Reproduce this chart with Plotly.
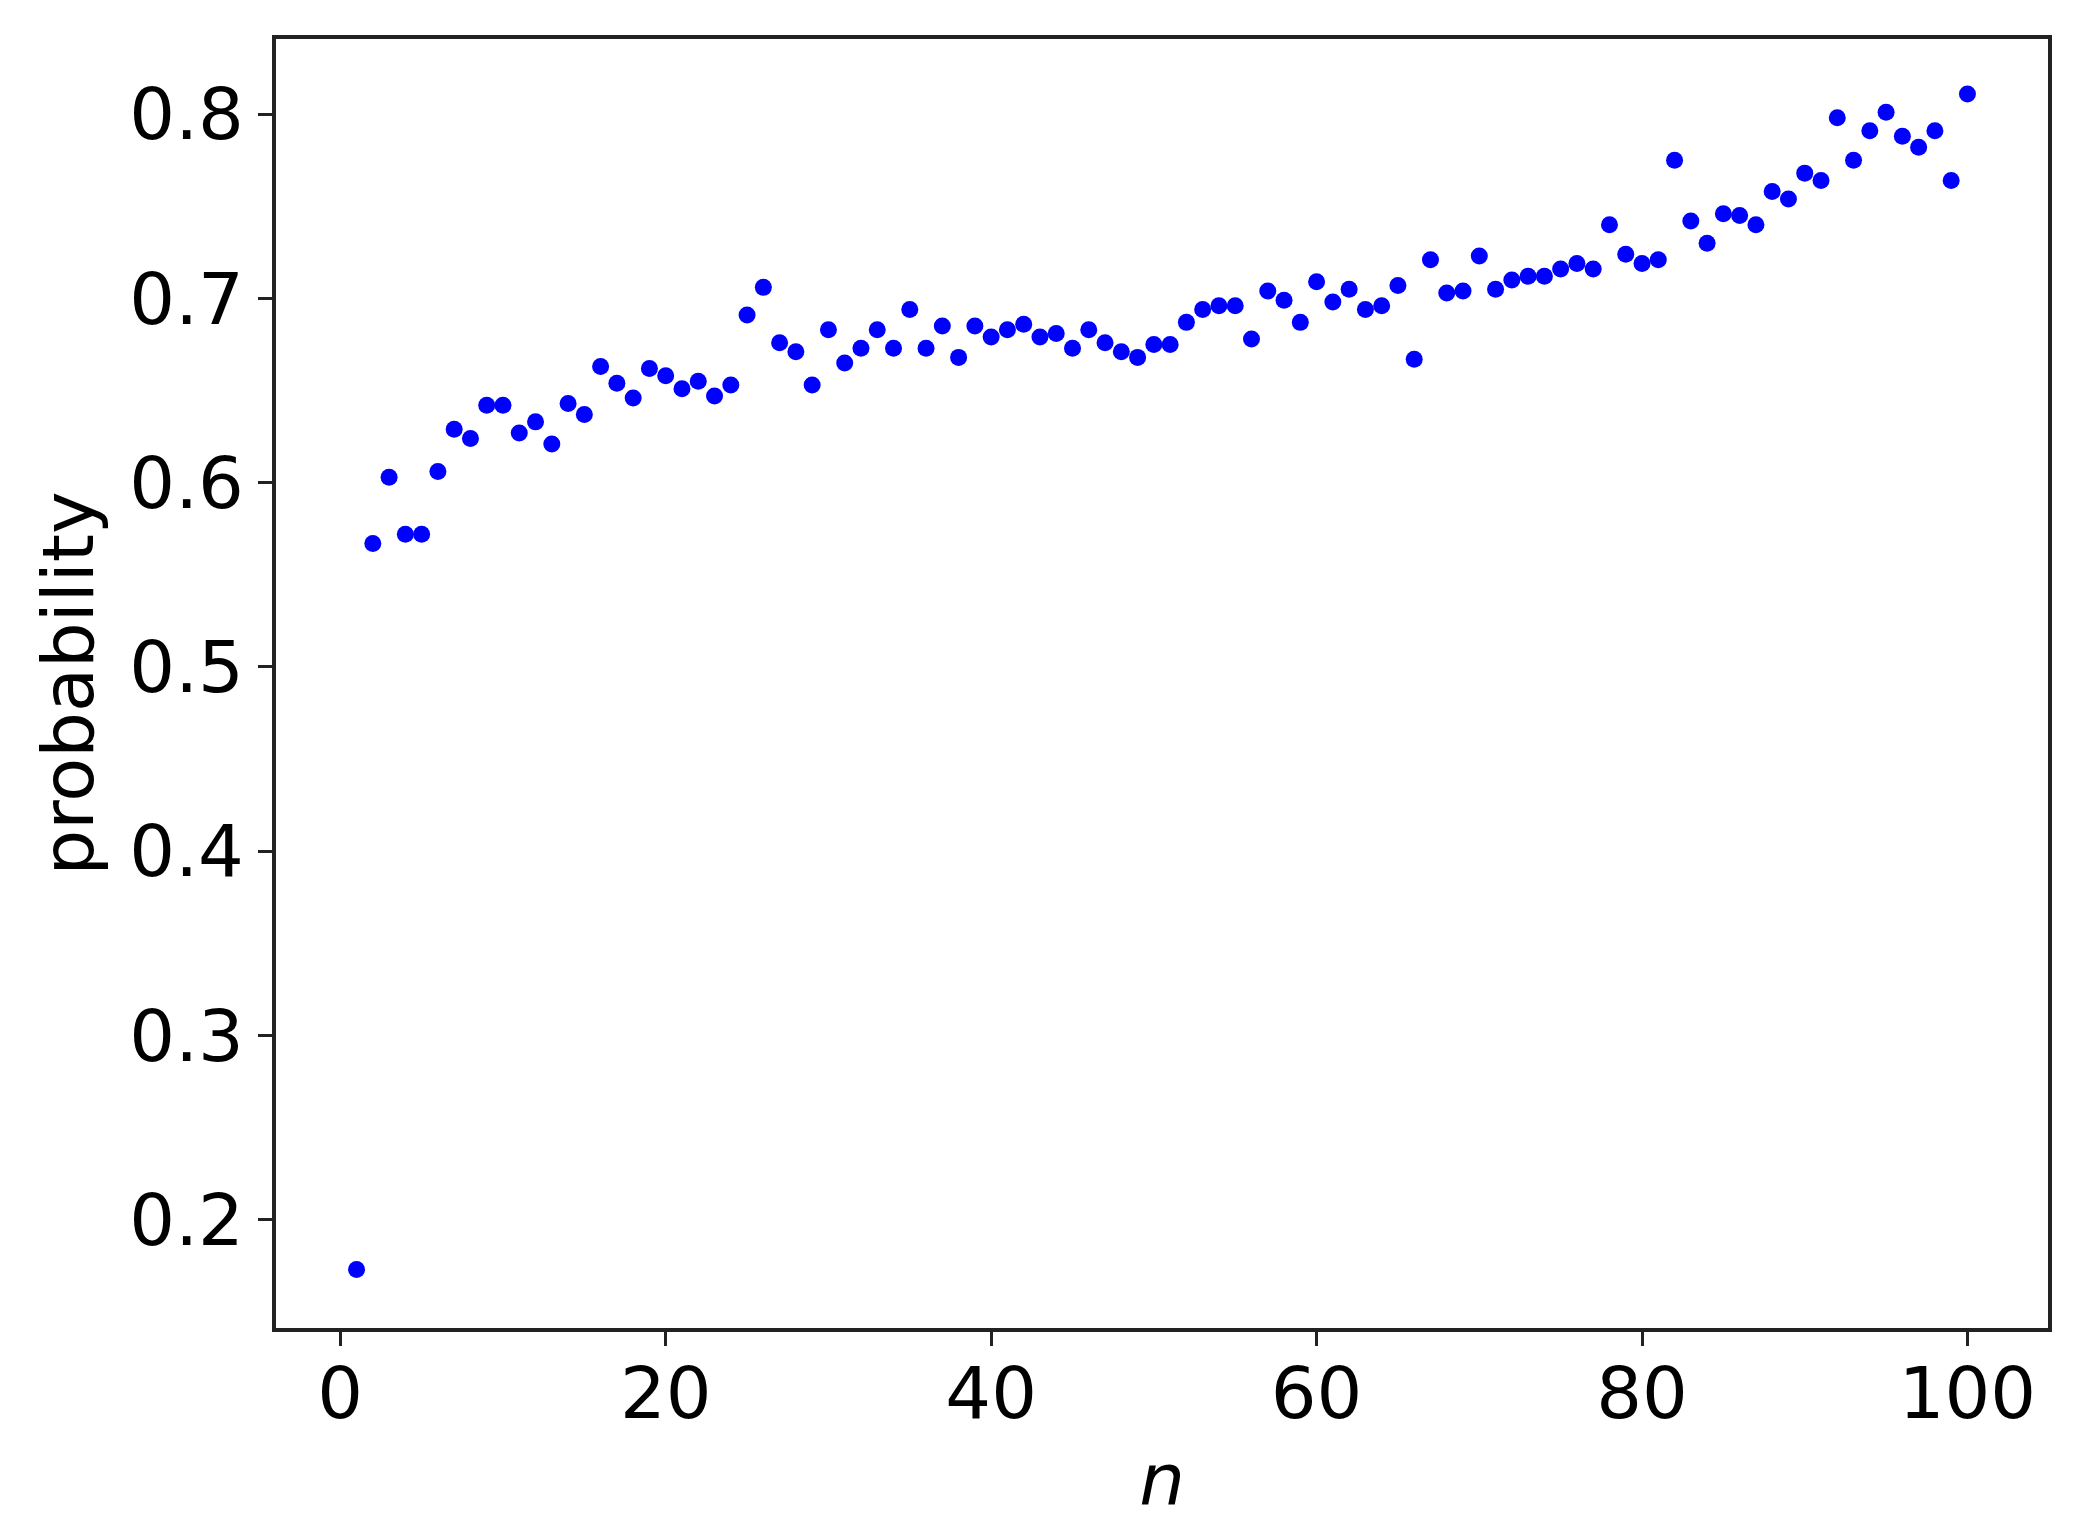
import plotly.graph_objects as go

# n = 1..100 and the estimated probability at each n
n_values = list(range(1, 101))
probability = [
    0.173, 0.567, 0.603, 0.572, 0.572, 0.606, 0.629, 0.624, 0.642, 0.642,
    0.627, 0.633, 0.621, 0.643, 0.637, 0.663, 0.654, 0.646, 0.662, 0.658,
    0.651, 0.655, 0.647, 0.653, 0.691, 0.706, 0.676, 0.671, 0.653, 0.683,
    0.665, 0.673, 0.683, 0.673, 0.694, 0.673, 0.685, 0.668, 0.685, 0.679,
    0.683, 0.686, 0.679, 0.681, 0.673, 0.683, 0.676, 0.671, 0.668, 0.675,
    0.675, 0.687, 0.694, 0.696, 0.696, 0.678, 0.704, 0.699, 0.687, 0.709,
    0.698, 0.705, 0.694, 0.696, 0.707, 0.667, 0.721, 0.703, 0.704, 0.723,
    0.705, 0.710, 0.712, 0.712, 0.716, 0.719, 0.716, 0.740, 0.724, 0.719,
    0.721, 0.775, 0.742, 0.730, 0.746, 0.745, 0.740, 0.758, 0.754, 0.768,
    0.764, 0.798, 0.775, 0.791, 0.801, 0.788, 0.782, 0.791, 0.764, 0.811,
]

x_ticks = [0, 20, 40, 60, 80, 100]
y_ticks = [0.2, 0.3, 0.4, 0.5, 0.6, 0.7, 0.8]

fig = go.Figure(go.Scatter(
    x=n_values, y=probability, mode="markers",
    marker=dict(color="#0000ff", size=17, line=dict(width=0)),
))

# same look for both axes: black frame, outward ticks
axis_style = dict(
    showline=True, linewidth=3.5, linecolor="#222222", mirror=True,
    ticks="outside", ticklen=14, tickwidth=3, tickcolor="#222222",
    showgrid=False, zeroline=False,
    tickfont=dict(family="DejaVu Sans", size=72, color="black"),
)

fig.update_xaxes(
    range=[-3.95, 104.95], tickvals=x_ticks, ticklabelstandoff=-14,
    title=dict(text="<i>n</i>", standoff=20,
               font=dict(family="DejaVu Sans", size=72, color="black")),
    **axis_style,
)
fig.update_yaxes(
    range=[0.1412, 0.8408], tickvals=y_ticks, tickformat=".1f",
    title=dict(text="probability", standoff=13,
               font=dict(family="DejaVu Sans", size=72, color="black")),
    **axis_style,
)

fig.update_layout(
    width=2082, height=1532,
    margin=dict(l=268, r=42, t=31, b=212),
    paper_bgcolor="white", plot_bgcolor="white",
    showlegend=False,
)

fig.write_html("out.html")
